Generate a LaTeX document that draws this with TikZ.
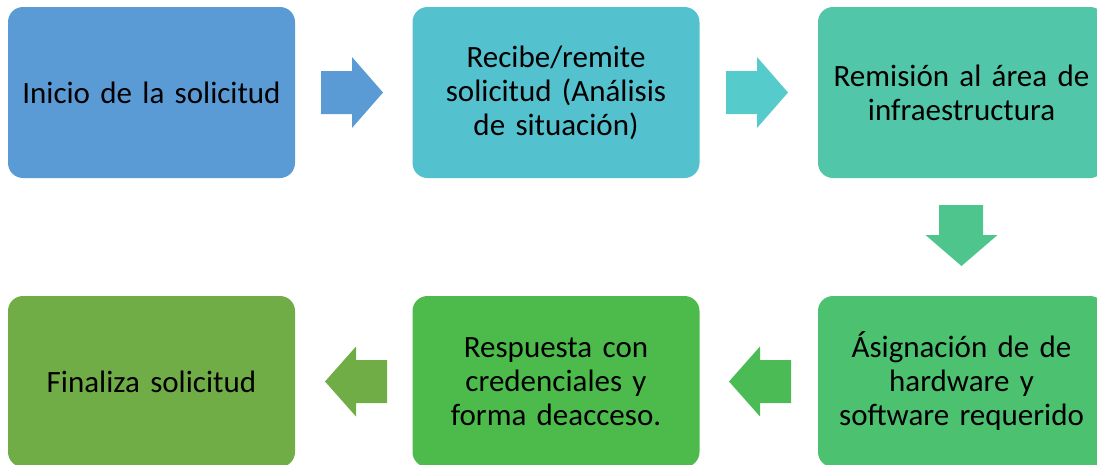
\documentclass[tikz,border=0pt]{standalone}
\usepackage{fontspec}
\setmainfont{Carlito}
\definecolor{cA}{HTML}{5B9BD5}
\definecolor{cB}{HTML}{54C1CF}
\definecolor{cBa}{HTML}{55CBCC}
\definecolor{cC}{HTML}{52C6A8}
\definecolor{cCa}{HTML}{4FC58E}
\definecolor{cD}{HTML}{4CC170}
\definecolor{cDa}{HTML}{4BBC55}
\definecolor{cE}{HTML}{4CBB4B}
\definecolor{cF}{HTML}{70AD47}
\tikzset{
  stepbox/.style={rounded corners=15pt, minimum width=287pt, minimum height=171pt,
    inner sep=0pt, text width=260pt, align=center,
    font=\fontsize{31}{34}\selectfont, text=black},
  blockarrow/.style={draw=none}
}
\begin{document}
\begin{tikzpicture}[x=1pt,y=-1pt]
\useasboundingbox (0,0) rectangle (1097,464);
\clip (0,0) rectangle (1097,464);
\node[stepbox, fill=cA] (a) at (151.5,92.5) {Inicio de la solicitud};
\node[stepbox, fill=cB] (b) at (556,92.5) {Recibe/remite\\solicitud (Análisis\\de situación)};
\node[stepbox, fill=cC] (c) at (961.5,92.5) {Remisión al área de\\infraestructura};
\node[stepbox, fill=cD] (d) at (961.5,381.5) {Ásignación de de\\hardware y\\software requerido};
\node[stepbox, fill=cE] (e) at (556,381.5) {Respuesta con\\credenciales y\\forma deacceso.};
\node[stepbox, fill=cF] (f) at (151.5,381.5) {Finaliza solicitud};
% block arrows
\fill[blockarrow, fill=cA] (321,71) -- (352,71) -- (352,57) -- (383,92.5) -- (352,128) -- (352,114) -- (321,114) -- cycle;
\fill[blockarrow, fill=cBa] (726,71) -- (757,71) -- (757,57) -- (788,92.5) -- (757,128) -- (757,114) -- (726,114) -- cycle;
\fill[blockarrow, fill=cCa] (939,205) -- (983,205) -- (983,235) -- (997.5,235) -- (961.5,266) -- (925.5,235) -- (939,235) -- cycle;
\fill[blockarrow, fill=cDa] (791,360) -- (760,360) -- (760,346.5) -- (729,381.5) -- (760,416.5) -- (760,403) -- (791,403) -- cycle;
\fill[blockarrow, fill=cF] (387,360) -- (356,360) -- (356,346.5) -- (325,381.5) -- (356,416.5) -- (356,403) -- (387,403) -- cycle;
\end{tikzpicture}
\end{document}
